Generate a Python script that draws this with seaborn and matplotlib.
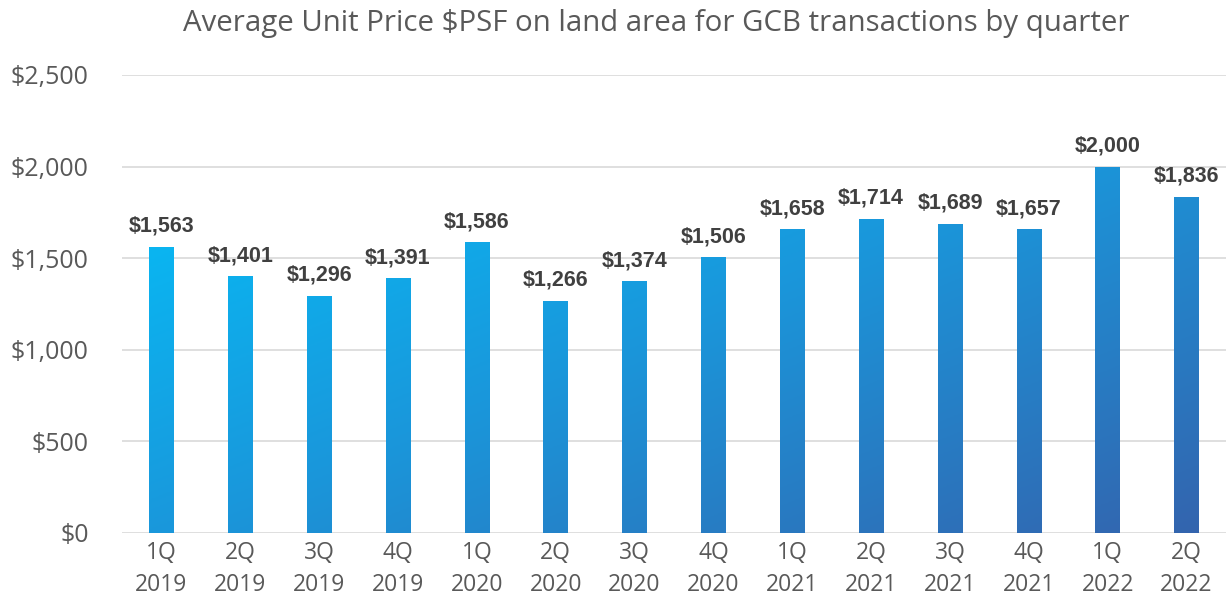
import numpy as np
import pandas as pd
import seaborn as sns
import matplotlib.pyplot as plt
from matplotlib.colors import LinearSegmentedColormap

quarters = ["1Q\n2019", "2Q\n2019", "3Q\n2019", "4Q\n2019",
            "1Q\n2020", "2Q\n2020", "3Q\n2020", "4Q\n2020",
            "1Q\n2021", "2Q\n2021", "3Q\n2021", "4Q\n2021",
            "1Q\n2022", "2Q\n2022"]
price_psf = [1563, 1401, 1296, 1391, 1586, 1266, 1374, 1506,
             1658, 1714, 1689, 1657, 2000, 1836]

df = pd.DataFrame({"quarter": quarters, "price": price_psf})

sns.set_style("white")
plt.rcParams["font.family"] = ["Open Sans", "DejaVu Sans"]

fig = plt.figure(figsize=(12.26, 5.99), dpi=100)
ax = fig.add_axes([0.0995, 0.1102, 0.9005, 0.7646])

sns.barplot(data=df, x="quarter", y="price", ax=ax, width=0.31,
            color="#1a97db", saturation=1)

ax.set_ylim(0, 2500)
ax.set_yticks(np.arange(0, 2501, 500))
ax.set_yticklabels([f"${v:,}" for v in range(0, 2501, 500)])
ax.yaxis.grid(True, color="#d9d9d9", lw=1.2)
ax.set_axisbelow(True)
for s in ax.spines.values():
    s.set_visible(False)
ax.set_xlabel("")
ax.set_ylabel("")
ax.tick_params(axis="both", length=0, colors="#595959")
ax.tick_params(axis="y", pad=24, labelsize=18)
ax.tick_params(axis="x", pad=6, labelsize=16.5)
for lab in ax.get_xticklabels():
    lab.set_linespacing(1.45)

# diagonal gradient fill, light cyan top-left to darker blue bottom-right
cmap = LinearSegmentedColormap.from_list(
    "grad", [(0, "#00c8ff"), (0.52, "#1a97db"), (1, "#3463ad")])
gx, gy = np.meshgrid(np.linspace(0, 1, 300), np.linspace(0, 1, 300))
grad = 0.5 * gx + 0.5 * (1 - gy)
for bar in ax.patches:
    img = ax.imshow(grad, cmap=cmap, vmin=0, vmax=1, aspect="auto",
                    extent=(-0.5, 13.5, 0, 2500), origin="lower", zorder=2)
    img.set_clip_path(bar)
    bar.set_facecolor("none")
    bar.set_edgecolor("none")
ax.set_xlim(-0.5, 13.5)
ax.set_ylim(0, 2500)

for i, v in enumerate(price_psf):
    ax.text(i, v + 55, f"${v:,}", ha="center", va="bottom",
            fontsize=15.5, fontweight="bold", color="#404040",
            family=["Liberation Sans", "DejaVu Sans"])

fig.suptitle("Average Unit Price $PSF on land area for GCB transactions by quarter",
             x=0.535, y=0.985, fontsize=21.2, color="#595959")

fig.savefig("out.png", dpi=100)
